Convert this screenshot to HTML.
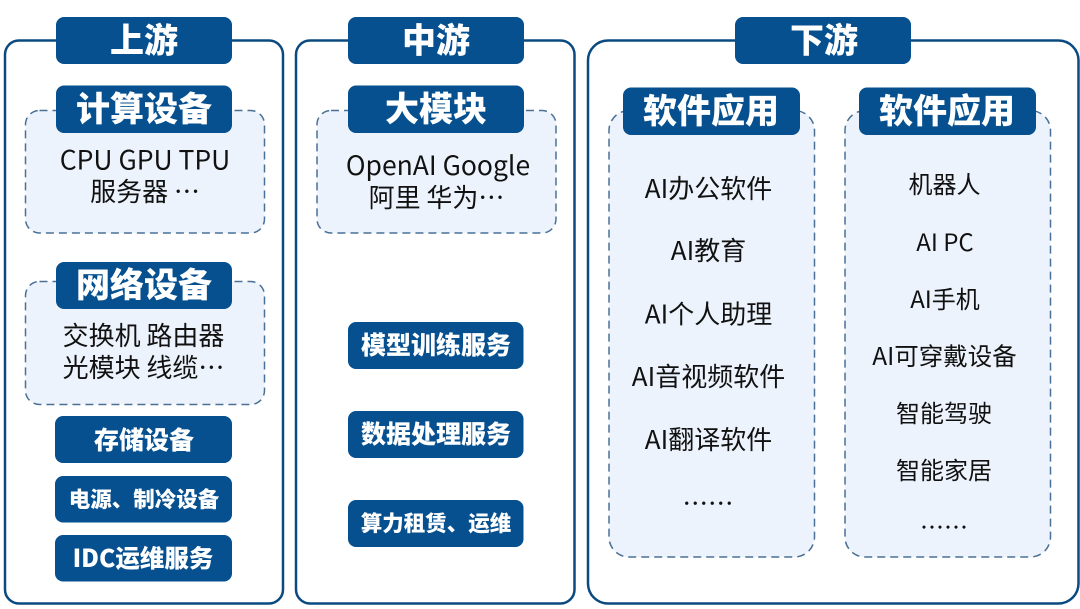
<!DOCTYPE html>
<html><head><meta charset="utf-8"><style>
html,body{margin:0;padding:0;background:#fff;width:1080px;height:609px;overflow:hidden}
svg{display:block}
text{font-family:"Noto Sans CJK SC","Liberation Sans",sans-serif;text-anchor:middle}
.p{fill:#fff;stroke:#0b4a80;stroke-width:2.500}
.d{fill:#edf3fc;stroke:#4a7096;stroke-width:1.500;stroke-dasharray:8 5}
.b{fill:#07508f}
.h{fill:#fff;font-weight:900}
.t{fill:#111;font-weight:400}
</style></head><body>
<svg width="1080" height="609" viewBox="0 0 1080 609" xmlns="http://www.w3.org/2000/svg">
<rect class="p" x="5" y="40.500" width="278" height="563" rx="14"/>
<rect class="p" x="296" y="40.500" width="278.500" height="563" rx="14"/>
<rect class="p" x="588" y="40.500" width="490.500" height="563" rx="20"/>

<rect class="d" x="25.500" y="110.500" width="239" height="122.500" rx="14"/>
<rect class="d" x="25.500" y="281.500" width="239" height="123" rx="14"/>
<rect class="d" x="317" y="110.500" width="239" height="122.500" rx="14"/>
<rect class="d" x="609" y="110.500" width="205.500" height="446.500" rx="20"/>
<rect class="d" x="845" y="110.500" width="205.500" height="446.500" rx="20"/>

<rect class="b" x="56" y="17" width="176" height="47" rx="8"/>
<rect class="b" x="348" y="17" width="176" height="47" rx="8"/>
<rect class="b" x="735" y="17" width="176" height="47" rx="8"/>
<rect class="b" x="56" y="85.500" width="176" height="47.500" rx="8"/>
<rect class="b" x="56" y="262" width="176" height="47" rx="8"/>
<rect class="b" x="55" y="416" width="177" height="47" rx="8"/>
<rect class="b" x="55" y="476" width="177" height="46.500" rx="8"/>
<rect class="b" x="55" y="535" width="177" height="46.500" rx="8"/>
<rect class="b" x="348" y="85.500" width="176" height="47.500" rx="8"/>
<rect class="b" x="348" y="322" width="175.500" height="47" rx="8"/>
<rect class="b" x="348" y="411" width="175.500" height="47" rx="8"/>
<rect class="b" x="348" y="500" width="175.500" height="47" rx="8"/>
<rect class="b" x="623" y="87.500" width="177" height="47.500" rx="8"/>
<rect class="b" x="859" y="87.500" width="177" height="47.500" rx="8"/>

<text class="h" x="144" y="52.500" font-size="34">上游</text>
<text class="h" x="436" y="52.500" font-size="34">中游</text>
<text class="h" x="824" y="52.500" font-size="34">下游</text>
<text class="h" x="144" y="121" font-size="34">计算设备</text>
<text class="h" x="144" y="297" font-size="34">网络设备</text>
<text class="h" x="144" y="449" font-size="25">存储设备</text>
<text class="h" x="144" y="507" font-size="21.500">电源、制冷设备</text>
<text class="h" x="143" y="567" font-size="24.500">IDC运维服务</text>
<text class="h" x="436" y="121" font-size="34">大模块</text>
<text class="h" x="436" y="354" font-size="25">模型训练服务</text>
<text class="h" x="436" y="443" font-size="25">数据处理服务</text>
<text class="h" x="436" y="531" font-size="21.500">算力租赁、运维</text>
<text class="h" x="711" y="123" font-size="34">软件应用</text>
<text class="h" x="947" y="123" font-size="34">软件应用</text>

<text class="t" x="145" y="169.500" font-size="26.500">CPU GPU TPU</text>
<text class="t" x="145" y="201" font-size="26">服务器 …</text>
<text class="t" x="143.500" y="345" font-size="26">交换机 路由器</text>
<text class="t" x="143.500" y="377" font-size="26">光模块 线缆…</text>
<text class="t" x="438" y="175" font-size="26.500">OpenAI Google</text>
<text class="t" x="436.500" y="207" font-size="26">阿里 华为…</text>

<text class="t" x="708.500" y="198" font-size="26">AI办公软件</text>
<text class="t" x="708.500" y="260" font-size="26">AI教育</text>
<text class="t" x="708.500" y="323.500" font-size="26">AI个人助理</text>
<text class="t" x="708.500" y="386" font-size="26">AI音视频软件</text>
<text class="t" x="708.500" y="449" font-size="26">AI翻译软件</text>
<text class="t" x="708" y="513" font-size="25.500">……</text>

<text class="t" x="944.500" y="193" font-size="24">机器人</text>
<text class="t" x="945" y="251" font-size="24">AI PC</text>
<text class="t" x="945" y="308" font-size="24">AI手机</text>
<text class="t" x="944.500" y="365" font-size="24.500">AI可穿戴设备</text>
<text class="t" x="944" y="422" font-size="24">智能驾驶</text>
<text class="t" x="944" y="479" font-size="24">智能家居</text>
<text class="t" x="944" y="536" font-size="24">……</text>
</svg>
</body></html>
